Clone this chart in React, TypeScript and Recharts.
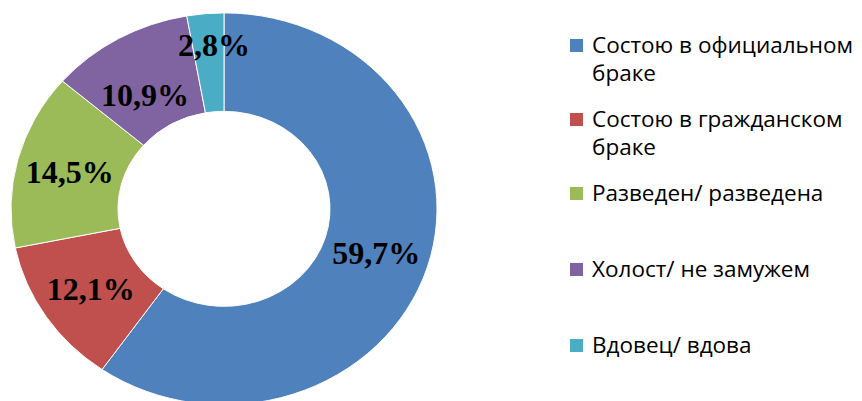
import { PieChart, Pie, Cell } from "recharts";

// marital status shares, %
const categories = [
  "Состою в официальном браке",
  "Состою в гражданском браке",
  "Разведен/ разведена",
  "Холост/ не замужем",
  "Вдовец/ вдова",
];
const shares = [59.7, 12.1, 14.5, 10.9, 2.8];
const colors = ["#4F81BD", "#C0504D", "#9BBB59", "#8064A2", "#4BACC6"];

const data = categories.map((name, i) => ({ name, value: shares[i] }));

// the original donut is a bit flattened vertically
const SQUASH = 0.92;
const RAD = Math.PI / 180;

const fmt = (v: number) => v.toFixed(1).replace(".", ",") + "%";

// small labels were pushed apart in the original so they don't collide
const labelNudge: Record<number, [number, number]> = {
  3: [0, 15],
  4: [4, -19],
};

const renderLabel = ({ cx, cy, midAngle, innerRadius, outerRadius, value, index }: any) => {
  const r = (innerRadius + outerRadius) / 2;
  const [dx, dy] = labelNudge[index] || [0, 0];
  const x = cx + r * Math.cos(-midAngle * RAD) + dx;
  const y = cy + r * Math.sin(-midAngle * RAD) + dy;
  return (
    <text
      x={x}
      y={y}
      textAnchor="middle"
      dominantBaseline="central"
      transform={`translate(${x} ${y}) scale(1 ${1 / SQUASH}) translate(${-x} ${-y})`}
      fill="#000"
      fontFamily="'Liberation Serif', 'Times New Roman', serif"
      fontWeight="bold"
      fontSize={32}
    >
      {fmt(value)}
    </text>
  );
};

export default function App() {
  return (
    <div
      style={{
        position: "absolute",
        left: 0,
        top: 0,
        width: 862,
        height: 401,
        overflow: "hidden",
        background: "#fff",
      }}
    >
      <div
        style={{
          position: "absolute",
          left: 0,
          top: 0,
          transform: `scaleY(${SQUASH})`,
          transformOrigin: "0 0",
        }}
      >
        <PieChart width={450} height={460} margin={{ top: 0, right: 0, bottom: 0, left: 0 }}>
          <Pie
            data={data}
            dataKey="value"
            nameKey="name"
            cx={224}
            cy={227}
            innerRadius={106}
            outerRadius={213}
            startAngle={90}
            endAngle={-270}
            stroke="#fff"
            strokeWidth={1}
            label={renderLabel}
            labelLine={false}
            isAnimationActive={false}
          >
            {data.map((_, i) => (
              <Cell key={i} fill={colors[i]} />
            ))}
          </Pie>
        </PieChart>
      </div>

      <div
        style={{
          position: "absolute",
          left: 570,
          top: 31,
          fontFamily: "'Open Sans', sans-serif",
          fontSize: 22.5,
          lineHeight: "28px",
          color: "#000",
        }}
      >
        {categories.map((name, i) => (
          <div
            key={name}
            style={{ display: "flex", alignItems: "flex-start", height: i === 0 || i === 1 ? 74 : 76 }}
          >
            <span
              style={{
                display: "inline-block",
                width: 13,
                height: 13,
                marginTop: 8,
                marginRight: 9,
                background: colors[i],
                flexShrink: 0,
              }}
            />
            <span style={{ width: 275, whiteSpace: "normal" }}>{name}</span>
          </div>
        ))}
      </div>
    </div>
  );
}
